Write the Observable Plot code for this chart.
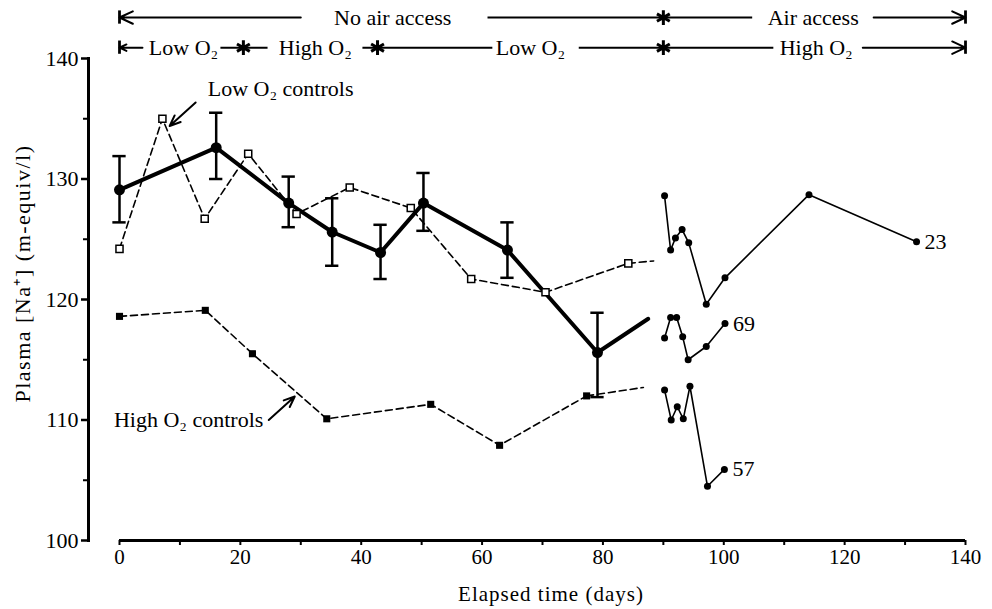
<!DOCTYPE html>
<html><head><meta charset="utf-8">
<script src="https://cdn.jsdelivr.net/npm/d3@7"></script>
<script src="https://cdn.jsdelivr.net/npm/@observablehq/plot@0.6"></script>
<style>
body{margin:0;background:#fff;}
</style>
</head><body><div id="chart"></div>
<script>
// Mean (experimental group) with error bars
const meanDays = [0, 16, 28, 35.2, 43.2, 50.3, 64.2, 79.1];
const meanNa = [129.1, 132.6, 128.0, 125.6, 123.9, 128.0, 124.1, 115.6];
const meanErrHigh = [131.9, 135.5, 130.2, 128.4, 126.2, 130.5, 126.4, 118.9];
const meanErrLow = [126.4, 130.0, 126.0, 122.8, 121.7, 125.7, 121.8, 111.9];
const meanTailDays = [79.1, 87.5];
const meanTailNa = [115.6, 118.4];

// Low O2 controls
const lowCtrlDays = [0, 7.1, 14.1, 21.3, 29.3, 38.1, 48.2, 58.2, 70.5, 84.2];
const lowCtrlNa = [124.2, 135.0, 126.7, 132.1, 127.1, 129.3, 127.6, 121.7, 120.6, 123.0];
const lowCtrlTailDays = [84.2, 88.4];
const lowCtrlTailNa = [123.0, 123.2];

// High O2 controls
const highCtrlDays = [0, 14.2, 22.0, 34.3, 51.5, 62.9, 77.3];
const highCtrlNa = [118.6, 119.1, 115.5, 110.1, 111.3, 107.9, 112.0];
const highCtrlTailDays = [77.3, 86.7];
const highCtrlTailNa = [112.0, 112.7];

// Individual fish after air access
const fishIds = ["23", "69", "57"];
const fish23Days = [90.2, 91.2, 92.0, 93.1, 94.2, 97.1, 100.2, 114.1, 131.9];
const fish23Na = [128.6, 124.1, 125.1, 125.8, 124.7, 119.6, 121.8, 128.7, 124.8];
const fish69Days = [90.2, 91.2, 92.2, 93.2, 94.1, 97.1, 100.2];
const fish69Na = [116.8, 118.5, 118.5, 116.9, 115.0, 116.1, 118.0];
const fish57Days = [90.2, 91.3, 92.3, 93.3, 94.4, 97.3, 100.1];
const fish57Na = [112.5, 110.0, 111.1, 110.1, 112.8, 104.5, 105.9];

// Axis ticks and titles
const xTicks = [0, 10, 20, 30, 40, 50, 60, 70, 80, 90, 100, 110, 120, 130, 140];
const yMajorTicks = [100, 110, 120, 130, 140];
const yMinorTicks = [105, 115, 125, 135];
const yTitle = "Plasma [Na⁺] (m-equiv/l)";
const xTitle = "Elapsed time (days)";

// Top annotation rows (days)
const accessLevel = 143.4;
const o2Level = 140.9;
const accessSegments = [[0, 30.0], [60.9, 104.7], [124.8, 140]];
const accessLabels = ["No air access", "Air access"];
const accessLabelDays = [45.2, 114.8];
const accessStars = [90];
const o2Segments = [[0, 3.8], [16.7, 24.5], [40.2, 61.7], [76.0, 108.2], [123.0, 140]];
const o2Labels = ["Low O₂", "High O₂", "Low O₂", "High O₂"];
const o2LabelDays = [10.6, 32.4, 68.0, 115.3];
const o2Stars = [20.5, 42.7, 90];

// Callout annotations
const lowCalloutText = "Low O₂ controls";
const lowCalloutPos = [14.6, 137.5];
const highCalloutText = "High O₂ controls";
const highCalloutPos = [23.8, 110.0];
const calloutArrows = [[12.6, 136.35, 8.3, 134.4], [24.7, 110.0, 29.0, 111.95]];

// Build tables
const mean = meanDays.map((d, i) => ({day: d, na: meanNa[i], lo: meanErrLow[i], hi: meanErrHigh[i]}));
const caps = mean.flatMap(d => [{day: d.day, v: d.lo}, {day: d.day, v: d.hi}]);
const meanTail = meanTailDays.map((d, i) => ({day: d, na: meanTailNa[i]}));
const lowCtrl = lowCtrlDays.map((d, i) => ({day: d, na: lowCtrlNa[i]}));
const lowTail = lowCtrlTailDays.map((d, i) => ({day: d, na: lowCtrlTailNa[i]}));
const highCtrl = highCtrlDays.map((d, i) => ({day: d, na: highCtrlNa[i]}));
const highTail = highCtrlTailDays.map((d, i) => ({day: d, na: highCtrlTailNa[i]}));
const fishSeries = [[fish23Days, fish23Na], [fish69Days, fish69Na], [fish57Days, fish57Na]];
const fish = fishSeries.flatMap(([ds, ns], k) => ds.map((d, i) => ({id: fishIds[k], day: d, na: ns[i]})));
const fishEnds = fishSeries.map(([ds, ns], k) => ({id: fishIds[k], day: ds[ds.length - 1], na: ns[ns.length - 1]}));

function rowMarks(level, segments, labels, labelDays, stars) {
  const first = segments[0], last = segments[segments.length - 1];
  const mids = segments.slice(1, -1);
  return [
    Plot.arrow([first], {x1: d => d[1], x2: d => d[0], y1: level, y2: level, strokeWidth: 2, headLength: 11, headAngle: 50}),
    Plot.arrow([last], {x1: d => d[0], x2: d => d[1], y1: level, y2: level, strokeWidth: 2, headLength: 11, headAngle: 50}),
    Plot.link(mids, {x1: d => d[0], x2: d => d[1], y1: level, y2: level, strokeWidth: 2}),
    Plot.ruleX([first[0], last[1]], {y1: level - 0.55, y2: level + 0.55, strokeWidth: 2.8}),
    Plot.dot(stars, {x: d => d, y: level, symbol: "asterisk", r: 7, stroke: "black", strokeWidth: 3}),
    Plot.text(labels, {x: (d, i) => labelDays[i], y: level, text: d => d, fontSize: 22, lineAnchor: "middle"})
  ];
}

const plot = Plot.plot({
  width: 992, height: 609,
  marginLeft: 88, marginRight: 27, marginTop: 58, marginBottom: 69,
  x: {domain: [-5.13, 140]},
  y: {domain: [100, 140]},
  style: {fontFamily: "'Liberation Serif', 'Times New Roman', serif", fontSize: "21px", color: "black", background: "white"},
  marks: [
    Plot.frame({anchor: "left", strokeWidth: 3}),
    Plot.ruleY([yMajorTicks[0]], {x1: xTicks[0], x2: xTicks[xTicks.length - 1], strokeWidth: 3}),
    Plot.axisX({ticks: xTicks, tickSize: 5, tickPadding: 4, strokeWidth: 2, tickFormat: d => d % 20 === 0 ? d : "", label: null, fontSize: 21}),
    Plot.axisY({ticks: yMajorTicks, tickSize: 7, tickPadding: 3, strokeWidth: 2.5, label: null, fontSize: 22}),
    Plot.axisY({ticks: yMinorTicks, tickSize: 5, strokeWidth: 2, tickFormat: () => "", label: null}),

    // High O2 controls
    Plot.line(highCtrl, {x: "day", y: "na", strokeWidth: 1.6, strokeDasharray: "7,4"}),
    Plot.line(highTail, {x: "day", y: "na", strokeWidth: 1.6, strokeDasharray: "7,4"}),
    Plot.dot(highCtrl, {x: "day", y: "na", symbol: "square", r: 4, fill: "black"}),

    // Low O2 controls
    Plot.line(lowCtrl, {x: "day", y: "na", strokeWidth: 1.6, strokeDasharray: "7,4"}),
    Plot.line(lowTail, {x: "day", y: "na", strokeWidth: 1.6, strokeDasharray: "7,4"}),

    // Mean with error bars
    Plot.ruleX(mean, {x: "day", y1: "lo", y2: "hi", strokeWidth: 2.5}),
    Plot.ruleY(caps, {y: "v", x1: d => d.day - 1.1, x2: d => d.day + 1.1, strokeWidth: 2.5}),
    Plot.line(mean, {x: "day", y: "na", strokeWidth: 4}),
    Plot.line(meanTail, {x: "day", y: "na", strokeWidth: 4}),
    Plot.dot(mean, {x: "day", y: "na", r: 5.5, fill: "black"}),

    Plot.dot(lowCtrl, {x: "day", y: "na", symbol: "square", r: 4, fill: "white", stroke: "black", strokeWidth: 1.5}),

    // Individual fish
    Plot.line(fish, {x: "day", y: "na", z: "id", strokeWidth: 1.6}),
    Plot.dot(fish, {x: "day", y: "na", r: 3.5, fill: "black"}),
    Plot.text(fishEnds, {x: "day", y: "na", text: "id", textAnchor: "start", dx: 8, fontSize: 22}),

    // Callouts
    Plot.text([lowCalloutText], {x: lowCalloutPos[0], y: lowCalloutPos[1], text: d => d, textAnchor: "start", fontSize: 22}),
    Plot.text([highCalloutText], {x: highCalloutPos[0], y: highCalloutPos[1], text: d => d, textAnchor: "end", fontSize: 22}),
    Plot.arrow(calloutArrows, {x1: d => d[0], y1: d => d[1], x2: d => d[2], y2: d => d[3], strokeWidth: 2, headLength: 10, headAngle: 45}),

    // Top annotation rows
    ...rowMarks(accessLevel, accessSegments, accessLabels, accessLabelDays, accessStars),
    ...rowMarks(o2Level, o2Segments, o2Labels, o2LabelDays, o2Stars),

    // Axis titles
    Plot.text([yTitle], {frameAnchor: "left", rotate: -90, dx: -66, dy: -26, fontSize: 22, textAnchor: "middle", lineAnchor: "middle"}),
    Plot.text([xTitle], {frameAnchor: "bottom", dx: 24, dy: 54, fontSize: 21, textAnchor: "middle", lineAnchor: "middle"})
  ]
});
plot.querySelectorAll("text").forEach(t => {
  if (t.textContent === yTitle) t.style.letterSpacing = "1.5px";
  if (t.textContent === xTitle) t.style.letterSpacing = "1px";
});
document.getElementById("chart").appendChild(plot);
</script>
</body></html>
